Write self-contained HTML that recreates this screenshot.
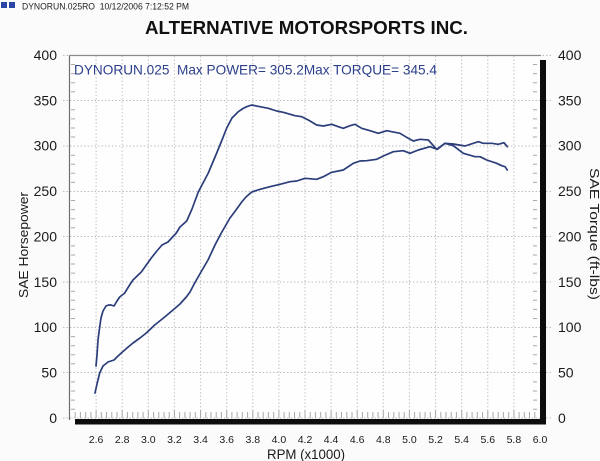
<!DOCTYPE html>
<html><head><meta charset="utf-8">
<style>
html,body{margin:0;padding:0;background:#fbfbfb;}
svg{display:block;}
text{font-family:"Liberation Sans",Arial,sans-serif;white-space:pre;}
</style></head>
<body>
<svg width="600" height="461" viewBox="0 0 600 461" xmlns="http://www.w3.org/2000/svg">
<rect x="0" y="0" width="600" height="461" fill="#fbfbfb"/>
<rect x="1" y="2" width="6" height="6" fill="#2a46a8"/>
<rect x="9" y="2" width="6" height="6" fill="#2a46a8"/>
<text x="22" y="9.5" font-size="9" fill="#222" textLength="167" lengthAdjust="spacingAndGlyphs">DYNORUN.025RO &#160;10/12/2006 7:12:52 PM</text>
<text x="145" y="34" font-size="18.6" font-weight="bold" fill="#111" textLength="323" lengthAdjust="spacingAndGlyphs">ALTERNATIVE MOTORSPORTS INC.</text>

<rect x="70" y="55" width="470" height="363" fill="#fefefe"/>

<g stroke="#bdbdbd" stroke-width="1" stroke-dasharray="1.5 2">
<line x1="63" y1="55.5" x2="552" y2="55.5"/>
<line x1="63" y1="100.5" x2="552" y2="100.5"/>
<line x1="63" y1="146" x2="552" y2="146"/>
<line x1="63" y1="191.5" x2="552" y2="191.5"/>
<line x1="63" y1="236.5" x2="552" y2="236.5"/>
<line x1="63" y1="282" x2="552" y2="282"/>
<line x1="63" y1="327.5" x2="552" y2="327.5"/>
<line x1="63" y1="372.5" x2="552" y2="372.5"/>
<line x1="63" y1="418" x2="552" y2="418"/>
</g>
<g stroke="#c4c4c4" stroke-width="1" stroke-dasharray="1.5 2">
<line x1="96.1" y1="56" x2="96.1" y2="418"/>
<line x1="122.2" y1="56" x2="122.2" y2="418"/>
<line x1="148.3" y1="56" x2="148.3" y2="418"/>
<line x1="174.4" y1="56" x2="174.4" y2="418"/>
<line x1="200.6" y1="56" x2="200.6" y2="418"/>
<line x1="226.7" y1="56" x2="226.7" y2="418"/>
<line x1="252.8" y1="56" x2="252.8" y2="418"/>
<line x1="278.9" y1="56" x2="278.9" y2="418"/>
<line x1="305" y1="56" x2="305" y2="418"/>
<line x1="331.1" y1="56" x2="331.1" y2="418"/>
<line x1="357.2" y1="56" x2="357.2" y2="418"/>
<line x1="383.3" y1="56" x2="383.3" y2="418"/>
<line x1="409.4" y1="56" x2="409.4" y2="418"/>
<line x1="435.6" y1="56" x2="435.6" y2="418"/>
<line x1="461.7" y1="56" x2="461.7" y2="418"/>
<line x1="487.8" y1="56" x2="487.8" y2="418"/>
<line x1="513.9" y1="56" x2="513.9" y2="418"/>
</g>

<g stroke="#a8a8a8" stroke-width="1">
<path d="M71 64.5h4M71 73.6h4M71 82.7h4M71 91.7h4M71 109.8h4M71 118.9h4M71 128h4M71 137h4M71 155.2h4M71 164.3h4M71 173.3h4M71 182.4h4M71 200.5h4M71 209.6h4M71 218.7h4M71 227.8h4M71 245.9h4M71 255h4M71 264h4M71 273.1h4M71 291.2h4M71 300.3h4M71 309.4h4M71 318.5h4M71 336.6h4M71 345.7h4M71 354.7h4M71 363.8h4M71 381.9h4M71 391h4M71 400.1h4M71 409.2h4"/>
</g>
<g stroke="#a8a8a8" stroke-width="1">
<path d="M533 64.5h4M533 73.6h4M533 82.7h4M533 91.7h4M533 109.8h4M533 118.9h4M533 128h4M533 137h4M533 155.2h4M533 164.3h4M533 173.3h4M533 182.4h4M533 200.5h4M533 209.6h4M533 218.7h4M533 227.8h4M533 245.9h4M533 255h4M533 264h4M533 273.1h4M533 291.2h4M533 300.3h4M533 309.4h4M533 318.5h4M533 336.6h4M533 345.7h4M533 354.7h4M533 363.8h4M533 381.9h4M533 391h4M533 400.1h4M533 409.2h4"/>
</g>
<g stroke="#a8a8a8" stroke-width="1">
<path d="M75.2 412v6M80.4 412v6M85.7 412v6M90.9 412v6M96.1 410v8M101.3 412v6M106.5 412v6M111.8 412v6M117 412v6M122.2 410v8M127.4 412v6M132.7 412v6M137.9 412v6M143.1 412v6M148.3 410v8M153.5 412v6M158.8 412v6M164 412v6M169.2 412v6M174.4 410v8M179.6 412v6M184.9 412v6M190.1 412v6M195.3 412v6M200.6 410v8M205.8 412v6M211 412v6M216.2 412v6M221.4 412v6M226.7 410v8M231.9 412v6M237.1 412v6M242.3 412v6M247.6 412v6M252.8 410v8M258 412v6M263.2 412v6M268.4 412v6M273.7 412v6M278.9 410v8M284.1 412v6M289.3 412v6M294.5 412v6M299.8 412v6M305 410v8M310.2 412v6M315.4 412v6M320.7 412v6M325.9 412v6M331.1 410v8M336.3 412v6M341.5 412v6M346.8 412v6M352 412v6M357.2 410v8M362.4 412v6M367.7 412v6M372.9 412v6M378.1 412v6M383.3 410v8M388.5 412v6M393.8 412v6M399 412v6M404.2 412v6M409.4 410v8M414.6 412v6M419.9 412v6M425.1 412v6M430.3 412v6M435.6 410v8M440.8 412v6M446 412v6M451.2 412v6M456.4 412v6M461.7 410v8M466.9 412v6M472.1 412v6M477.3 412v6M482.5 412v6M487.8 410v8M493 412v6M498.2 412v6M503.4 412v6M508.7 412v6M513.9 410v8M519.1 412v6M524.3 412v6M529.5 412v6M534.8 412v6"/>
</g>

<line x1="69.5" y1="55" x2="69.5" y2="420" stroke="#6e6e6e" stroke-width="1.2"/>
<line x1="69" y1="55.5" x2="541" y2="55.5" stroke="#8a8a8a" stroke-width="1.2"/>
<rect x="75" y="419" width="471" height="5.5" fill="#0d0d0d"/>
<rect x="540" y="60" width="6" height="364.5" fill="#0d0d0d"/>

<text x="74" y="74.5" font-size="13.6" fill="#2c3f8c" textLength="363" lengthAdjust="spacingAndGlyphs">DYNORUN.025 &#160;Max POWER= 305.2Max TORQUE= 345.4</text>

<polyline fill="none" stroke="#2b3d7a" stroke-width="1.7" stroke-linejoin="round" stroke-linecap="round" points="96,366 97,355 98,340 99.7,327 101,318 103,311 106,306 108.7,305 111,305 114,306 117,301 119.7,297 124.7,293 129,286 133,280 141.3,272 151.3,258 156,252 162,245 168,242 176.3,233 180,227 186.7,221 192,209 198.3,192 208.3,173 216.7,153 222,140 226.7,128 232,118 238.3,111.7 243,108.5 246.7,106.7 251.7,105 260,106.7 268.3,108.3 276.7,111 283.3,112.3 295,115.7 301.7,116.7 308.3,120 316.7,125 323.3,126 331.7,124.3 338.3,126.7 343.3,128.3 350,125.7 355,124.3 361.7,128.3 370,130.7 378.3,133.3 386.7,130.7 400,133.3 408.3,138.3 413.3,141 420,139.3 428.3,140 436.7,149.3 445,143.3 453.3,145.7 463.3,153.3 475,156.7 480,156.7 486.7,160 496.7,163.3 501.7,165.7 505,166.7 507.3,170"/>
<polyline fill="none" stroke="#2b3d7a" stroke-width="1.7" stroke-linejoin="round" stroke-linecap="round" points="95,393 97,384 99.7,373 103,366 108,362 114,360 117,357 121.3,353 127,348 133,343 140,338 146.3,333 154.7,325 164.7,317 173,310 180,304 186.3,297 190,292 194.7,283 201,272 208,260 215,245 221.3,233 230,218 236,210 241.7,202 246,197 251.7,192 260,189.3 270,186.7 280,184.3 290,181.7 296.7,181 305,178.3 316.7,179.3 323.3,176.7 331.7,172.3 343.3,170 353.3,163.3 360,161 366.7,160.7 376.7,159.3 383.3,156 393.3,151.7 403.3,150.7 410,153.3 418.3,150 430,146.7 437.3,149.3 445,143.3 453.3,144 465,146 478.3,141.7 483.3,143.3 491.7,143.3 498.3,144.3 504,142.7 507.3,146.7"/>

<g font-size="14" fill="#1a1a1a" text-anchor="end">
<text x="57" y="60">400</text>
<text x="57" y="105.3">350</text>
<text x="57" y="150.7">300</text>
<text x="57" y="196">250</text>
<text x="57" y="241.5">200</text>
<text x="57" y="286.8">150</text>
<text x="57" y="332.2">100</text>
<text x="57" y="377.5">50</text>
<text x="57" y="423">0</text>
</g>
<g font-size="14" fill="#1a1a1a" text-anchor="start">
<text x="558" y="60">400</text>
<text x="558" y="105.3">350</text>
<text x="558" y="150.7">300</text>
<text x="558" y="196">250</text>
<text x="558" y="241.5">200</text>
<text x="558" y="286.8">150</text>
<text x="558" y="332.2">100</text>
<text x="558" y="377.5">50</text>
<text x="558" y="423">0</text>
</g>
<g font-size="10.5" fill="#1a1a1a" text-anchor="middle">
<text x="96.1" y="443">2.6</text>
<text x="122.2" y="443">2.8</text>
<text x="148.3" y="443">3.0</text>
<text x="174.4" y="443">3.2</text>
<text x="200.6" y="443">3.4</text>
<text x="226.7" y="443">3.6</text>
<text x="252.8" y="443">3.8</text>
<text x="278.9" y="443">4.0</text>
<text x="305" y="443">4.2</text>
<text x="331.1" y="443">4.4</text>
<text x="357.2" y="443">4.6</text>
<text x="383.3" y="443">4.8</text>
<text x="409.4" y="443">5.0</text>
<text x="435.6" y="443">5.2</text>
<text x="461.7" y="443">5.4</text>
<text x="487.8" y="443">5.6</text>
<text x="513.9" y="443">5.8</text>
<text x="540" y="443">6.0</text>
</g>
<text x="267" y="459" font-size="14" fill="#1a1a1a" textLength="78" lengthAdjust="spacingAndGlyphs">RPM (x1000)</text>

<text transform="translate(28,245) rotate(-90)" font-size="13" fill="#1a1a1a" text-anchor="middle" textLength="106" lengthAdjust="spacingAndGlyphs">SAE Horsepower</text>
<text transform="translate(590,234) rotate(90)" font-size="13" fill="#1a1a1a" text-anchor="middle" textLength="132" lengthAdjust="spacingAndGlyphs">SAE Torque (ft-lbs)</text>
</svg>
</body></html>
